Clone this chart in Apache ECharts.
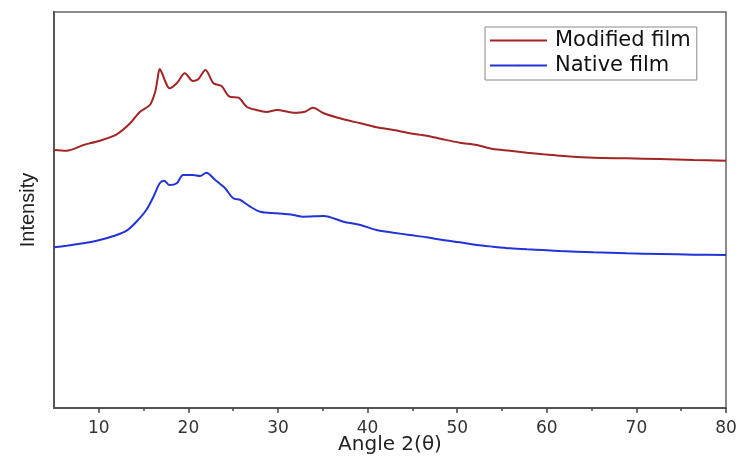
<!DOCTYPE html>
<html>
<head>
<meta charset="utf-8">
<script src="https://cdn.jsdelivr.net/npm/echarts@6/dist/echarts.min.js"></script>
<style>
  html, body { margin: 0; padding: 0; background: #fff; }
  #main { width: 748px; height: 459px; }
</style>
</head>
<body>
<div id="main"></div>
<script>
// XRD patterns (arbitrary intensity units)
var modAngle = [5, 6.4, 8.3, 10.1, 12.0, 13.5, 14.6, 15.7, 16.3, 16.5, 16.8, 17.1, 17.4, 17.9, 18.7, 19.6, 20.5, 21.1, 21.9, 22.8, 23.7, 24.6, 25.6, 26.5, 27.6, 28.7, 29.9, 31.7, 33.0, 33.9, 35.1, 37.3, 39.2, 41.0, 42.9, 44.7, 46.6, 48.4, 50.3, 52.2, 54.0, 55.9, 57.8, 59.6, 61.5, 65.2, 68.9, 72.6, 76.4, 80];
var modValues = [2580, 2573, 2630, 2673, 2737, 2847, 2963, 3030, 3163, 3260, 3390, 3340, 3270, 3197, 3247, 3347, 3270, 3287, 3380, 3247, 3220, 3113, 3103, 3013, 2980, 2960, 2980, 2953, 2963, 3003, 2947, 2887, 2847, 2807, 2780, 2747, 2723, 2687, 2653, 2630, 2590, 2573, 2553, 2537, 2523, 2503, 2497, 2490, 2480, 2473];

var natAngle = [5, 6.4, 8.3, 10.1, 12.0, 13.1, 14.2, 15.3, 16.1, 16.8, 17.3, 17.9, 18.7, 19.4, 20.5, 21.3, 22.0, 23.0, 24.1, 25.0, 25.8, 26.9, 28.0, 29.9, 31.7, 32.8, 35.1, 37.3, 39.2, 41.0, 42.9, 44.7, 46.6, 48.4, 50.3, 52.2, 54.0, 55.9, 57.8, 59.6, 61.5, 65.2, 68.9, 72.6, 76.4, 80];
var natValues = [1607, 1623, 1647, 1680, 1730, 1773, 1863, 1980, 2113, 2247, 2273, 2230, 2247, 2330, 2330, 2320, 2353, 2280, 2197, 2097, 2080, 2013, 1963, 1947, 1930, 1913, 1920, 1863, 1830, 1780, 1753, 1730, 1707, 1680, 1657, 1630, 1613, 1597, 1587, 1580, 1570, 1557, 1547, 1540, 1533, 1530];

var majorTicks = [10, 20, 30, 40, 50, 60, 70, 80];
var minorTicks = [15, 25, 35, 45, 55, 65, 75];

function pairs(xs, ys) {
  var out = [];
  for (var i = 0; i < xs.length; i++) out.push([xs[i], ys[i]]);
  return out;
}

var wideFont = 'DejaVu Sans, Arial, sans-serif';

var chart = echarts.init(document.getElementById('main'), null, { renderer: 'canvas' });
var option = {
  animation: false,
  backgroundColor: '#fff',
  textStyle: { fontFamily: wideFont },
  grid: {
    left: 54, right: 22, top: 12, bottom: 51,
    outerBoundsMode: 'none', containLabel: false,
    show: true, borderColor: '#666', borderWidth: 1.5
  },
  legend: {
    orient: 'vertical',
    left: 485, top: 27,
    padding: [3, 6, 4, 4],
    borderColor: '#888', borderWidth: 1,
    itemWidth: 57, itemHeight: 2, itemGap: 4,
    textStyle: { fontSize: 21, color: '#111', fontFamily: wideFont, padding: [0, 0, 0, 3] },
    data: ['Modified film', 'Native film']
  },
  xAxis: [
    {
      type: 'value', min: 5, max: 80,
      name: 'Angle 2(\u03b8)', nameLocation: 'middle', nameGap: 27, nameMoveOverlap: false,
      nameTextStyle: { fontSize: 20, color: '#222', fontFamily: wideFont },
      axisLine: { show: true, lineStyle: { color: '#555', width: 2 } },
      axisTick: { show: true, length: 5, lineStyle: { color: '#444', width: 1.5 }, customValues: majorTicks },
      axisLabel: { fontSize: 17, color: '#333', margin: 12, fontFamily: wideFont, customValues: majorTicks },
      splitLine: { show: false }
    },
    {
      type: 'value', min: 5, max: 80, position: 'bottom',
      axisLine: { show: false },
      axisTick: { show: true, length: 3, lineStyle: { color: '#444', width: 1.5 }, customValues: minorTicks },
      axisLabel: { show: false },
      splitLine: { show: false }
    }
  ],
  yAxis: {
    type: 'value', min: 0, max: 3960,
    name: 'Intensity', nameLocation: 'middle', nameGap: 16,
    nameTextStyle: { fontSize: 20, color: '#222', fontFamily: 'Liberation Sans Narrow, Arial Narrow, sans-serif' },
    axisLine: { show: true, lineStyle: { color: '#555', width: 2 } },
    axisTick: { show: false },
    axisLabel: { show: false },
    splitLine: { show: false }
  },
  series: [
    {
      name: 'Modified film', type: 'line', symbol: 'none', smooth: 0.3,
      data: pairs(modAngle, modValues),
      lineStyle: { color: '#a32424', width: 2 },
      itemStyle: { color: '#a32424' }
    },
    {
      name: 'Native film', type: 'line', symbol: 'none', smooth: 0.3,
      data: pairs(natAngle, natValues),
      lineStyle: { color: '#2233d8', width: 2 },
      itemStyle: { color: '#2233d8' }
    }
  ]
};
chart.setOption(option);
</script>
</body>
</html>
